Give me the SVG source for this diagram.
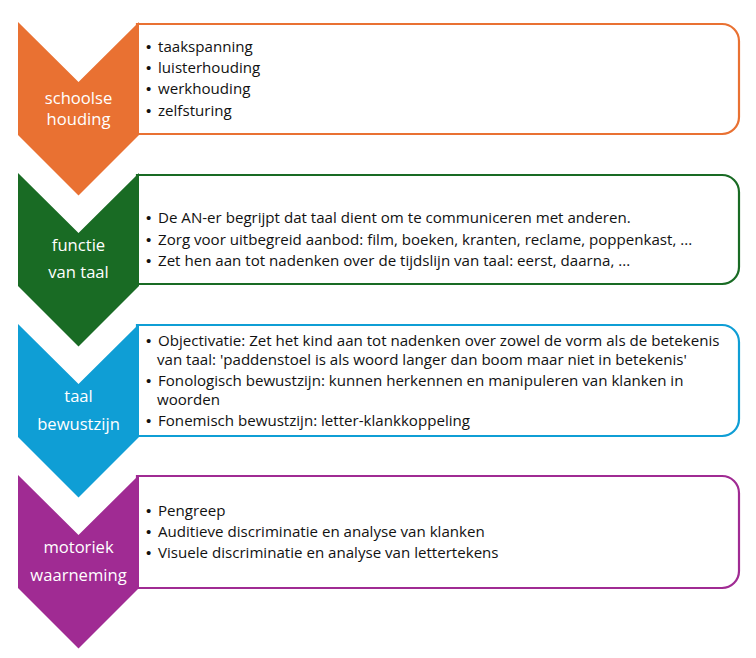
<svg xmlns="http://www.w3.org/2000/svg" width="756" height="658" viewBox="0 0 756 658">
<style>
.box{fill:#fff;stroke-width:2.2}
.lbl{font-family:"Open Sans","Liberation Sans",Arial,sans-serif;font-size:16.6px;fill:#fff;text-anchor:middle}
.txt{font-family:"Open Sans","Liberation Sans",Arial,sans-serif;font-size:15.1px;fill:#111}
.bul{font-family:"Liberation Sans",Arial,sans-serif;font-size:15px;fill:#111}
</style>
<rect width="756" height="658" fill="#fff"/>
<g id="node-schoolse-houding">
<path class="box" stroke="#E97132" d="M137,24 H722 A17,17 0 0 1 739,41 V117 A17,17 0 0 1 722,134 H137 Z"/>
<polygon fill="#E97132" points="18,22 78.5,82 139,22 139,135 78.5,195.5 18,135"/>
<text class="lbl" x="78.5" y="103.5">schoolse</text>
<text class="lbl" x="78.5" y="124.5">houding</text>
<text class="bul" x="146" y="52">•</text><text class="txt" x="158" y="52">taakspanning</text>
<text class="bul" x="146" y="73">•</text><text class="txt" x="158" y="73">luisterhouding</text>
<text class="bul" x="146" y="94">•</text><text class="txt" x="158" y="94">werkhouding</text>
<text class="bul" x="146" y="115.5">•</text><text class="txt" x="158" y="115.5">zelfsturing</text>
</g>
<g id="node-functie-van-taal">
<path class="box" stroke="#196B24" d="M137,175 H722 A17,17 0 0 1 739,192 V267 A17,17 0 0 1 722,284 H137 Z"/>
<polygon fill="#196B24" points="18,173 78.5,233 139,173 139,286 78.5,346.5 18,286"/>
<text class="lbl" x="78.5" y="250.5">functie</text>
<text class="lbl" x="78.5" y="277.5">van taal</text>
<text class="bul" x="146" y="223">•</text><text class="txt" x="158" y="223">De AN-er begrijpt dat taal dient om te communiceren met anderen.</text>
<text class="bul" x="146" y="244.5">•</text><text class="txt" x="158" y="244.5">Zorg voor uitbegreid aanbod: film, boeken, kranten, reclame, poppenkast, ...</text>
<text class="bul" x="146" y="266">•</text><text class="txt" x="158" y="266">Zet hen aan tot nadenken over de tijdslijn van taal: eerst, daarna, ...</text>
</g>
<g id="node-taal-bewustzijn">
<path class="box" stroke="#0F9ED5" d="M137,325 H722 A17,17 0 0 1 739,342 V419 A17,17 0 0 1 722,436 H137 Z"/>
<polygon fill="#0F9ED5" points="18,324 78.5,384 139,324 139,437 78.5,497.5 18,437"/>
<text class="lbl" x="78.5" y="402">taal</text>
<text class="lbl" x="78.5" y="429.5">bewustzijn</text>
<text class="bul" x="146" y="346">•</text><text class="txt" x="158" y="346">Objectivatie: Zet het kind aan tot nadenken over zowel de vorm als de betekenis</text>
<text class="txt" x="157" y="365">van taal: 'paddenstoel is als woord langer dan boom maar niet in betekenis'</text>
<text class="bul" x="146" y="385.5">•</text><text class="txt" x="158" y="385.5">Fonologisch bewustzijn: kunnen herkennen en manipuleren van klanken in</text>
<text class="txt" x="157" y="404.5">woorden</text>
<text class="bul" x="146" y="425.5">•</text><text class="txt" x="158" y="425.5">Fonemisch bewustzijn: letter-klankkoppeling</text>
</g>
<g id="node-motoriek-waarneming">
<path class="box" stroke="#A02B93" d="M137,476 H722 A17,17 0 0 1 739,493 V571 A17,17 0 0 1 722,588 H137 Z"/>
<polygon fill="#A02B93" points="18,475 78.5,535 139,475 139,588 78.5,648.5 18,588"/>
<text class="lbl" x="78.5" y="553">motoriek</text>
<text class="lbl" x="78.5" y="581">waarneming</text>
<text class="bul" x="146" y="516">•</text><text class="txt" x="158" y="516">Pengreep</text>
<text class="bul" x="146" y="537">•</text><text class="txt" x="158" y="537">Auditieve discriminatie en analyse van klanken</text>
<text class="bul" x="146" y="558">•</text><text class="txt" x="158" y="558">Visuele discriminatie en analyse van lettertekens</text>
</g>
<g id="connectors"></g>
</svg>
